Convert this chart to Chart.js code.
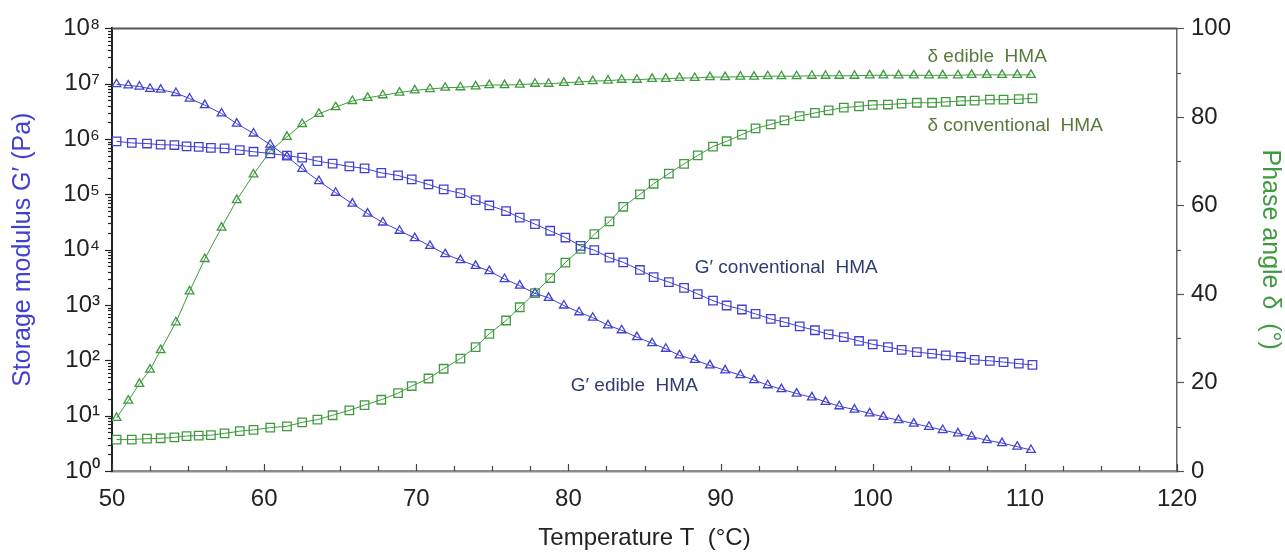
<!DOCTYPE html>
<html><head><meta charset="utf-8">
<script src="https://cdn.jsdelivr.net/npm/chart.js@4.4.1/dist/chart.umd.min.js"></script>
<style>html,body{margin:0;padding:0;background:#fff}#wrap{width:1285px;height:557px}</style>
</head><body><div id="wrap"><canvas id="c" width="1285" height="557"></canvas></div>
<script>
// Temperature (°C) of each measured point
const tempEdible = [50.3,51.07,51.8,52.5,53.2,54.2,55.1,56.1,57.2,58.2,59.3,60.4,61.5,62.5,63.6,64.7,65.8,66.8,67.8,68.9,69.9,70.9,71.9,72.9,73.9,74.8,75.8,76.8,77.8,78.7,79.7,80.7,81.6,82.6,83.5,84.5,85.5,86.4,87.3,88.3,89.3,90.3,91.3,92.2,93.1,94.0,95.0,96.0,96.9,97.8,98.8,99.8,100.7,101.7,102.7,103.7,104.6,105.6,106.5,107.5,108.5,109.5,110.4];
const tempConventional = [50.3,51.3,52.3,53.2,54.1,54.9,55.7,56.5,57.4,58.4,59.3,60.4,61.5,62.5,63.5,64.5,65.6,66.6,67.7,68.8,69.7,70.8,71.8,72.9,73.9,74.8,75.9,76.8,77.8,78.8,79.8,80.8,81.7,82.7,83.6,84.7,85.6,86.6,87.6,88.5,89.5,90.4,91.4,92.3,93.3,94.2,95.2,96.2,97.1,98.1,99.1,100.0,101.0,101.9,102.9,103.9,104.8,105.8,106.7,107.7,108.6,109.6,110.5];
// Storage modulus G' (Pa)
const gEdible = [9.8e6,9.3e6,8.9e6,8.1e6,7.8e6,6.8e6,5.4e6,4.1e6,2.9e6,1.9e6,1.26e6,7.9e5,4.8e5,2.9e5,1.74e5,1.07e5,6.8e4,4.5e4,3.1e4,2.2e4,1.62e4,1.17e4,8.3e3,6.5e3,5.1e3,4.1e3,2.95e3,2.24e3,1.62e3,1.35e3,980,740,590,430,350,263,204,162,123,102,81,66,54,44,35.5,30.2,25.1,21.4,17.8,14.8,12.9,11.0,9.5,8.3,7.2,6.3,5.5,4.8,4.2,3.6,3.2,2.75,2.4];
const gConventional = [9.1e5,8.5e5,8.3e5,7.9e5,7.8e5,7.4e5,7.2e5,6.9e5,6.8e5,6.3e5,5.9e5,5.5e5,5.0e5,4.6e5,4.0e5,3.6e5,3.2e5,2.95e5,2.45e5,2.2e5,1.86e5,1.51e5,1.23e5,1.05e5,7.9e4,6.3e4,5.0e4,3.8e4,2.9e4,2.2e4,1.66e4,1.17e4,9.8e3,7.2e3,5.9e3,4.3e3,3.2e3,2.6e3,2.04e3,1.58e3,1.2e3,980,830,690,560,490,410,350,295,263,224,195,174,155,141,132,123,115,102,98,93,87,83];
// Phase angle δ (°)
const deltaEdible = [12.0,15.9,19.7,22.9,27.3,33.6,40.6,47.9,55.0,61.2,67.0,72.3,75.5,78.4,80.7,82.2,83.6,84.3,84.9,85.5,86.0,86.3,86.6,86.7,86.9,87.2,87.2,87.3,87.5,87.5,87.7,87.9,88.1,88.2,88.4,88.4,88.6,88.6,88.8,88.8,89.0,89.0,89.1,89.1,89.2,89.2,89.2,89.3,89.3,89.3,89.3,89.4,89.4,89.4,89.4,89.4,89.4,89.4,89.5,89.5,89.5,89.5,89.5];
const deltaConventional = [7.1,7.1,7.3,7.4,7.6,7.9,8.0,8.1,8.5,9.0,9.3,9.8,10.1,11.0,11.6,12.6,13.7,14.9,16.1,17.6,19.2,20.9,23.1,25.4,28.0,31.0,34.0,37.0,40.2,43.6,47.1,50.2,53.5,56.4,59.7,62.5,64.9,67.2,69.4,71.3,73.3,74.5,76.0,77.4,78.3,79.2,80.2,80.9,81.5,82.1,82.4,82.7,82.8,83.0,83.2,83.2,83.4,83.6,83.7,83.9,83.9,84.0,84.2];
// Tick labels
const xTickValues = [50,60,70,80,90,100,110,120];
const leftTickValues = [1,10,100,1e3,1e4,1e5,1e6,1e7,1e8];
const rightTickValues = [0,20,40,60,80,100];
// Curve labels
const seriesLabels = ["G\u2032 edible HMA","G\u2032 conventional HMA","\u03b4 edible HMA","\u03b4 conventional HMA"];

const BLUE = '#4040d4', GREEN = '#3f9a3f';
const FONT = '"Liberation Sans", Arial, sans-serif';
const SUP = ['\u2070','\u00b9','\u00b2','\u00b3','\u2074','\u2075','\u2076','\u2077','\u2078'];

function pts(xs, ys){ return xs.map((t,i)=>({x:t, y:ys[i]})); }

const annotations = [
  {text: seriesLabels[0], x: 80.15, y: 35, axis: 'y', color: '#2e3c72'},
  {text: seriesLabels[1], x: 88.3, y: 4.8e3, axis: 'y', color: '#2e3c72'},
  {text: seriesLabels[2], x: 103.6, y: 93.7, axis: 'y2', color: '#587a3c'},
  {text: seriesLabels[3], x: 103.6, y: 77.9, axis: 'y2', color: '#587a3c'}
];

const marksPlugin = {
  id: 'marks',
  afterDraw(chart){
    const {ctx, chartArea: a, scales} = chart;
    const {x, y, y2} = scales;
    ctx.save();
    const line = (x1,y1,x2,y2_)=>{ctx.beginPath();ctx.moveTo(x1,y1);ctx.lineTo(x2,y2_);ctx.stroke();};
    // top frame
    ctx.strokeStyle = '#555'; ctx.lineWidth = 2;
    line(a.left, a.top, a.right, a.top);
    // x ticks (inward)
    ctx.strokeStyle = '#444'; ctx.lineWidth = 1.2;
    for (let v = 50; v <= 120; v += 2.5) {
      const px = Math.round(x.getPixelForValue(v)) + 0.5;
      line(px, a.bottom, px, a.bottom - (v % 10 === 0 ? 7 : 5));
    }
    // left log ticks (outward)
    ctx.strokeStyle = '#222';
    for (let k = 0; k < 8; k++) {
      for (let m = 1; m <= 9; m++) {
        const py = Math.round(y.getPixelForValue(m * Math.pow(10, k))) + 0.5;
        line(a.left - (m === 1 ? 7 : 4), py, a.left, py);
      }
    }
    const pyTop = Math.round(y.getPixelForValue(1e8)) + 0.5;
    line(a.left - 7, pyTop, a.left, pyTop);
    // right ticks (outward)
    ctx.strokeStyle = '#555';
    for (let v = 0; v <= 100; v += 10) {
      const py = Math.round(y2.getPixelForValue(v)) + 0.5;
      line(a.right, py, a.right + (v % 20 === 0 ? 7 : 4), py);
    }
    // curve labels
    ctx.font = '19px ' + FONT;
    ctx.textBaseline = 'middle'; ctx.textAlign = 'left';
    annotations.forEach(an => {
      ctx.fillStyle = an.color;
      ctx.fillText(an.text.replace(/ HMA/, '  HMA'), x.getPixelForValue(an.x), scales[an.axis].getPixelForValue(an.y));
    });
    ctx.restore();
  }
};

const common = {showLine: true, borderWidth: 1, pointBorderWidth: 1.3, backgroundColor: 'rgba(0,0,0,0)', tension: 0};

new Chart(document.getElementById('c'), {
  type: 'scatter',
  data: {
    datasets: [
      Object.assign({label: seriesLabels[0], data: pts(tempEdible, gEdible), yAxisID: 'y', borderColor: BLUE, pointBorderColor: BLUE, pointStyle: 'triangle', pointRadius: 5}, common),
      Object.assign({label: seriesLabels[1], data: pts(tempConventional, gConventional), yAxisID: 'y', borderColor: BLUE, pointBorderColor: BLUE, pointStyle: 'rect', pointRadius: 6}, common),
      Object.assign({label: seriesLabels[2], data: pts(tempEdible, deltaEdible), yAxisID: 'y2', borderColor: GREEN, pointBorderColor: GREEN, pointStyle: 'triangle', pointRadius: 5}, common),
      Object.assign({label: seriesLabels[3], data: pts(tempConventional, deltaConventional), yAxisID: 'y2', borderColor: GREEN, pointBorderColor: GREEN, pointStyle: 'rect', pointRadius: 6}, common)
    ]
  },
  options: {
    responsive: false, animation: false, devicePixelRatio: 1,
    layout: {padding: {top: 27, left: 0, right: 0, bottom: 0}},
    plugins: {legend: {display: false}, tooltip: {enabled: false}},
    scales: {
      x: {
        type: 'linear', min: 50, max: 120,
        afterBuildTicks: s => { s.ticks = xTickValues.map(v => ({value: v})); },
        afterFit: s => { s.height = 86; },
        grid: {display: true, drawOnChartArea: false, drawTicks: false},
        border: {display: true, color: '#8c8c8c', width: 2.5},
        ticks: {padding: 14, color: '#222', font: {family: FONT, size: 24}, maxRotation: 0},
        title: {display: true, text: 'Temperature T  (\u00b0C)', color: '#222', font: {family: FONT, size: 24}, padding: {top: 0, bottom: 4}}
      },
      y: {
        type: 'logarithmic', position: 'left', min: 1, max: 1e8,
        afterBuildTicks: s => { s.ticks = leftTickValues.map(v => ({value: v})); },
        afterFit: s => { s.width = 112; },
        grid: {display: true, drawOnChartArea: false, drawTicks: false},
        border: {display: true, color: '#222', width: 2},
        ticks: {padding: 12, color: '#222', font: {family: FONT, size: 24},
          callback: v => '10' + SUP[Math.round(Math.log10(v))]},
        title: {display: true, text: 'Storage modulus G\u2032 (Pa)', color: BLUE, font: {family: FONT, size: 25}, padding: {top: 8, bottom: 0}}
      },
      y2: {
        type: 'linear', position: 'right', min: 0, max: 100,
        afterBuildTicks: s => { s.ticks = rightTickValues.map(v => ({value: v})); },
        afterFit: s => { s.width = 108; },
        grid: {display: true, drawOnChartArea: false, drawTicks: false},
        border: {display: true, color: '#666', width: 1.5},
        ticks: {padding: 14, color: '#222', font: {family: FONT, size: 24}},
        title: {display: true, text: 'Phase angle \u03b4  (\u00b0)', color: GREEN, font: {family: FONT, size: 25}, padding: {top: 0, bottom: 4}}
      }
    }
  },
  plugins: [marksPlugin]
});
</script></body></html>
